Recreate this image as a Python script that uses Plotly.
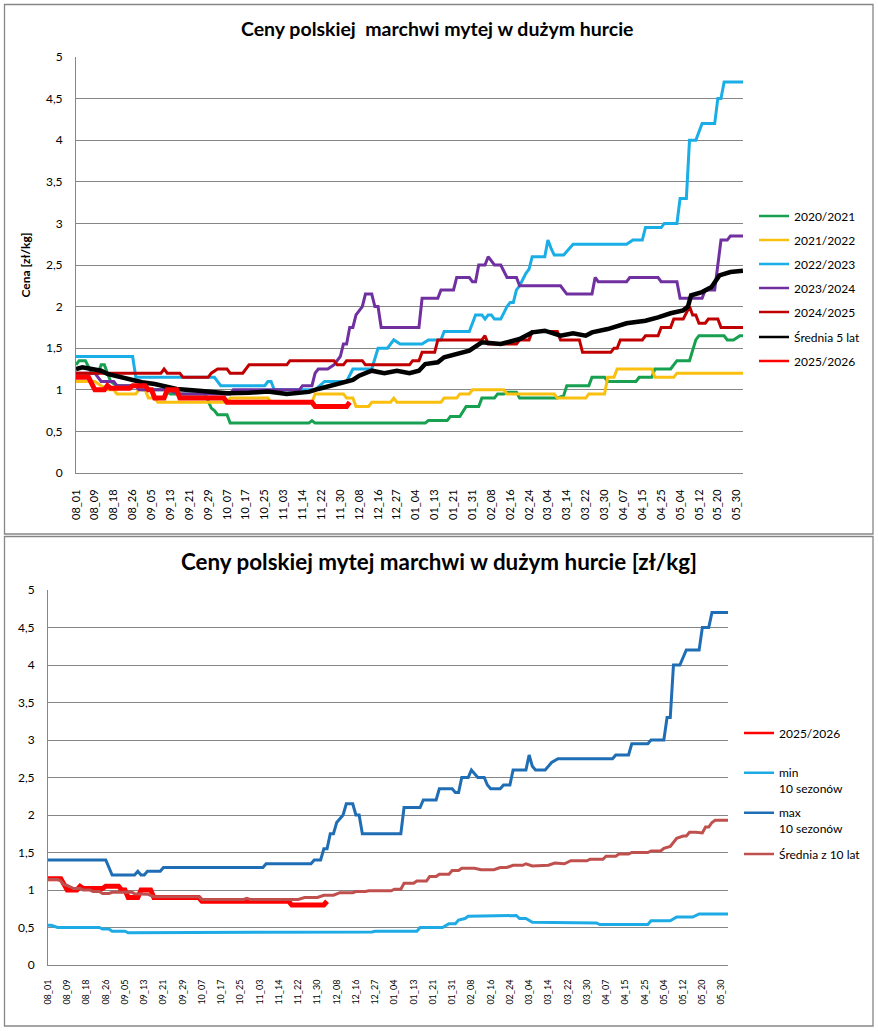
import plotly.graph_objects as go

W, H = 878, 1031
FONT = "Lato"

# ---------------- categories / tick labels ----------------
tick_labels = ["08_01", "08_09", "08_18", "08_26", "09_05", "09_13", "09_21", "09_29",
               "10_07", "10_17", "10_25", "11_03", "11_14", "11_22", "11_30", "12_08",
               "12_16", "12_27", "01_04", "01_13", "01_21", "01_31", "02_08", "02_16",
               "02_24", "03_04", "03_14", "03_22", "03_30", "04_07", "04_15", "04_25",
               "05_04", "05_12", "05_20", "05_30"]
tick_index = list(range(0, 211, 6))      # every 6th quotation day is labelled
n_days = 213                              # quotation days in a season

# ---------------- top chart series: (quotation-day index, price) ----------------
s2020_21 = [(0,1.3),(1,1.35),(3,1.35),(5,1.2),(7,1.2),(8,1.3),(9,1.3),(11,1.1),(13,1.05),(19,1.05),
            (21,1.0),(28,1.0),(30,0.95),(41,0.95),(43,0.78),(44,0.75),(45,0.7),(48,0.7),(49,0.6),
            (74,0.6),(75,0.63),(76,0.6),(111,0.6),(112,0.63),(118,0.63),(119,0.68),(122,0.68),
            (124,0.8),(128,0.8),(129,0.9),(133,0.9),(134,0.95),(136,0.95),(137,0.97),(140,0.97),
            (141,0.9),(153,0.9),(155,0.93),(156,1.05),(163,1.05),(164,1.15),(168,1.15),(169,1.1),
            (178,1.1),(179,1.15),(183,1.15),(184,1.25),(189,1.25),(191,1.35),(195,1.35),(197,1.6),
            (198,1.65),(206,1.65),(207,1.6),(209,1.6),(211,1.65),(212,1.65)]
s2021_22 = [(0,1.1),(6,1.1),(8,1.05),(10,1.0),(12,1.0),(13,0.95),(19,0.95),(20,1.0),(22,1.0),
            (23,0.9),(25,0.9),(26,0.85),(48,0.85),(49,0.9),(61,0.9),(62,0.85),(75,0.85),(76,0.95),
            (85,0.95),(86,0.9),(88,0.9),(89,0.8),(93,0.8),(94,0.85),(100,0.85),(101,0.9),(102,0.85),
            (116,0.85),(117,0.9),(121,0.9),(122,0.95),(125,0.95),(126,1.0),(136,1.0),(137,0.95),
            (152,0.95),(153,0.9),(162,0.9),(163,0.95),(168,0.95),(169,1.15),(171,1.15),(172,1.25),
            (183,1.25),(184,1.15),(190,1.15),(191,1.2),(212,1.2)]
s2022_23 = [(0,1.4),(18,1.4),(19,1.15),(44,1.15),(46,1.05),(60,1.05),(61,1.1),(62,1.1),(63,1.0),
            (76,1.0),(79,1.1),(86,1.1),(88,1.25),(94,1.25),(96,1.5),(99,1.5),(101,1.6),(103,1.55),
            (110,1.55),(112,1.6),(116,1.6),(117,1.7),(125,1.7),(127,1.9),(129,1.9),(130,1.85),
            (131,1.9),(132,1.9),(133,1.85),(135,1.85),(137,2.0),(138,2.05),(139,2.05),(140,2.2),
            (141,2.25),(143,2.4),(144,2.45),(145,2.6),(149,2.6),(150,2.8),(151,2.7),(152,2.62),
            (155,2.62),(157,2.7),(158,2.75),(175,2.75),(177,2.8),(180,2.8),(181,2.95),(186,2.95),
            (187,3.0),(191,3.0),(192,3.3),(194,3.3),(195,4.0),(197,4.0),(199,4.2),(203,4.2),
            (204,4.5),(205,4.5),(206,4.7),(212,4.7)]
s2023_24 = [(0,1.2),(6,1.2),(8,1.1),(12,1.1),(13,1.05),(19,1.05),(20,1.0),(29,1.0),(33,0.95),
            (49,0.95),(50,1.0),(71,1.0),(72,1.05),(75,1.05),(76,1.2),(77,1.25),(80,1.25),(82,1.3),
            (83,1.35),(84,1.4),(85,1.55),(86,1.55),(87,1.75),(88,1.75),(89,1.9),(90,1.95),(91,2.0),
            (92,2.15),(94,2.15),(95,2.0),(96,2.0),(97,1.75),(109,1.75),(110,2.1),(115,2.1),(116,2.2),
            (120,2.2),(121,2.35),(125,2.35),(126,2.3),(127,2.3),(128,2.5),(130,2.5),(131,2.6),
            (132,2.55),(133,2.5),(135,2.5),(137,2.35),(140,2.35),(141,2.25),(154,2.25),(156,2.15),
            (164,2.15),(165,2.35),(166,2.3),(175,2.3),(176,2.35),(185,2.35),(186,2.3),(191,2.3),
            (192,2.1),(199,2.1),(200,2.2),(203,2.2),(205,2.8),(207,2.8),(208,2.85),(212,2.85)]
s2024_25 = [(0,1.2),(27,1.2),(28,1.25),(29,1.2),(33,1.2),(34,1.15),(42,1.15),(43,1.2),(45,1.25),
            (48,1.25),(49,1.2),(53,1.2),(55,1.3),(67,1.3),(68,1.35),(82,1.35),(83,1.3),(85,1.3),
            (86,1.35),(91,1.35),(92,1.3),(106,1.3),(107,1.35),(109,1.35),(110,1.45),(114,1.45),
            (115,1.6),(129,1.6),(130,1.65),(131,1.55),(140,1.55),(141,1.6),(144,1.6),(145,1.7),
            (153,1.7),(154,1.6),(160,1.6),(161,1.45),(170,1.45),(171,1.5),(172,1.5),(173,1.6),
            (180,1.6),(181,1.65),(185,1.65),(186,1.75),(189,1.75),(190,1.85),(193,1.85),(195,2.0),
            (196,1.9),(197,1.9),(198,1.8),(200,1.8),(201,1.85),(204,1.85),(205,1.75),(212,1.75)]
avg_5y = [(0,1.25),(2,1.27),(5,1.25),(8,1.23),(10,1.19),(14,1.15),(17,1.13),(21,1.09),(25,1.07),
          (28,1.04),(32,1.01),(40,0.985),(48,0.96),(55,0.965),(61,0.98),(67,0.95),(74,0.975),
          (77,1.01),(81,1.05),(85,1.08),(88,1.12),(90,1.17),(92,1.2),(94,1.23),(98,1.2),(102,1.23),
          (106,1.2),(109,1.23),(111,1.31),(115,1.33),(117,1.39),(121,1.43),(125,1.47),(129,1.57),
          (135,1.55),(141,1.61),(145,1.69),(149,1.71),(154,1.65),(158,1.68),(162,1.65),(164,1.69),
          (169,1.73),(175,1.8),(181,1.83),(185,1.87),(189,1.92),(193,1.955),(194.5,2.0),
          (195.5,2.135),(199,2.175),(202,2.235),(204.5,2.375),(208,2.415),(212,2.43)]
s2025_26 = [(0,1.15),(4,1.15),(6,1.0),(9,1.0),(10,1.05),(11,1.02),(17,1.02),(18,1.05),(22,1.05),
            (23,1.0),(24,1.0),(25,0.9),(28,0.9),(29,1.0),(32,1.0),(33,0.9),(47,0.9),(48,0.85),
            (75,0.85),(76,0.8),(86,0.8),(87,0.85)]

# ---------------- bottom chart series ----------------
min_10 = [(0,0.53),(1,0.53),(3,0.5),(16,0.5),(17,0.48),(19,0.48),(20,0.45),(24,0.45),(25,0.43),
          (82,0.43),(83,0.44),(101,0.44),(102,0.45),(115,0.45),(116,0.5),(123,0.5),(125,0.55),
          (127,0.55),(128,0.6),(130,0.62),(131,0.65),(140,0.65),(141,0.66),(146,0.66),(147,0.62),
          (149,0.62),(151,0.57),(167,0.57),(168,0.56),(171,0.56),(172,0.54),(187,0.54),(188,0.59),
          (194,0.59),(196,0.64),(201,0.64),(203,0.68),(212,0.68)]
max_10 = [(0,1.4),(18,1.4),(20,1.2),(27,1.2),(28,1.25),(29,1.2),(30,1.2),(31,1.25),(35,1.25),
          (36,1.3),(67,1.3),(68,1.35),(82,1.35),(83,1.4),(85,1.4),(86,1.55),(87,1.55),(88,1.75),
          (89,1.75),(90,1.9),(91,1.95),(92,2.0),(93,2.15),(95,2.15),(96,2.0),(97,2.0),(98,1.75),
          (110,1.75),(111,2.1),(116,2.1),(117,2.2),(121,2.2),(122,2.35),(126,2.35),(127,2.3),
          (128,2.3),(129,2.5),(131,2.5),(132,2.6),(133,2.55),(134,2.5),(136,2.5),(137,2.4),
          (138,2.35),(141,2.35),(142,2.4),(144,2.4),(145,2.6),(149,2.6),(150,2.8),(151,2.65),
          (152,2.6),(155,2.6),(157,2.7),(159,2.75),(176,2.75),(177,2.8),(181,2.8),(182,2.95),
          (187,2.95),(188,3.0),(192,3.0),(193,3.3),(194,3.3),(195,4.0),(197,4.0),(199,4.2),
          (203,4.2),(204,4.5),(206,4.5),(207,4.7),(212,4.7)]
avg_10y = [(0,1.14),(3,1.14),(4,1.12),(5,1.07),(6,1.06),(8,1.02),(10,1.02),(11,1.0),(13,1.0),
           (14,0.98),(16,0.98),(17,0.955),(19,0.955),(20,0.97),(23,0.97),(26,0.975),(27,0.95),
           (31,0.945),(33,0.91),(47,0.91),(48,0.875),(61,0.875),(62,0.89),(63,0.875),(78,0.875),
           (80,0.9),(84,0.9),(86,0.93),(89,0.93),(91,0.965),(95,0.965),(96,0.98),(99,0.98),
           (100,0.99),(107,0.99),(108,1.01),(110,1.01),(111,1.09),(114,1.09),(115,1.12),(118,1.12),
           (119,1.18),(121,1.18),(122,1.21),(125,1.21),(126,1.26),(128,1.26),(129,1.29),(133,1.29),
           (135,1.27),(139,1.27),(141,1.3),(143,1.3),(145,1.33),(148,1.33),(149,1.35),(151,1.32),
           (154,1.32),(156,1.33),(158,1.36),(161,1.35),(163,1.39),(168,1.39),(169,1.41),(173,1.41),
           (174,1.45),(177,1.45),(178,1.48),(181,1.48),(182,1.5),(187,1.5),(188,1.52),(191,1.52),
           (192,1.555),(194,1.58),(196,1.69),(198,1.72),(199,1.72),(200,1.77),(202,1.77),(203,1.76),
           (204,1.76),(205,1.84),(206,1.84),(207,1.9),(208,1.93),(212,1.93)]

# ---------------- styles ----------------
GRID = "#868686"
C = {
    "2020/2021": "#17A050", "2021/2022": "#FAC010", "2022/2023": "#1AAEE6",
    "2023/2024": "#7030A0", "2024/2025": "#C00000", "Średnia 5 lat": "#000000",
    "2025/2026": "#FF0000", "min": "#1EABE5", "max": "#1F6EB5", "avg10": "#C0504D",
}

def px_x(p):
    return p / W

def px_y(p):
    return 1 - p / H

fig = go.Figure()
legends = {}

def add(series, name, color, width, xa, ya, legend_no, lx, ly, valign="middle"):
    xs = [p[0] for p in series]
    ys = [p[1] for p in series]
    lname = "legend" if legend_no == 1 else f"legend{legend_no}"
    # data line (not in legend)
    fig.add_trace(go.Scatter(x=xs, y=ys, mode="lines", name=name, xaxis=xa, yaxis=ya,
                             line=dict(color=color, width=width), showlegend=False,
                             hoverinfo="skip"))
    # legend entry with the thinner legend stroke
    fig.add_trace(go.Scatter(x=[None], y=[None], mode="lines", name=name, xaxis=xa, yaxis=ya,
                             line=dict(color=color, width=2.5), legend=lname,
                             showlegend=True, hoverinfo="skip"))
    legends[lname] = dict(x=px_x(lx), y=px_y(ly), xanchor="left", yanchor="middle",
                          bgcolor="rgba(0,0,0,0)", borderwidth=0, valign=valign,
                          font=dict(family=FONT, size=12, color="#000"))

# top chart
TL = 754
add(s2020_21, "2020/2021", C["2020/2021"], 3, "x", "y", 1, TL, 216)
add(s2021_22, "2021/2022", C["2021/2022"], 3, "x", "y", 2, TL, 240)
add(s2022_23, "2022/2023", C["2022/2023"], 3, "x", "y", 3, TL, 264)
add(s2023_24, "2023/2024", C["2023/2024"], 3, "x", "y", 4, TL, 288)
add(s2024_25, "2024/2025", C["2024/2025"], 3, "x", "y", 5, TL, 312)
add(avg_5y, "Średnia 5 lat", C["Średnia 5 lat"], 4.5, "x", "y", 6, TL, 337)
add(s2025_26, "2025/2026", C["2025/2026"], 5, "x", "y", 7, TL, 361)

# bottom chart
BL = 739
add(s2025_26, "2025/2026", C["2025/2026"], 5, "x2", "y2", 8, BL, 733)
add(min_10, "min<br>10 sezonów", C["min"], 3, "x2", "y2", 9, BL, 781, "top")
add(max_10, "max<br>10 sezonów", C["max"], 3, "x2", "y2", 10, BL, 821, "top")
add(avg_10y, "Średnia z 10 lat", C["avg10"], 3, "x2", "y2", 11, BL, 854)

def xaxis(domain, anchor, size, standoff):
    return dict(domain=domain, anchor=anchor, range=[0, n_days - 1], tickmode="array",
                tickvals=tick_index, ticktext=tick_labels, tickangle=-90,
                showgrid=False, zeroline=False, showline=True, linecolor=GRID, linewidth=1,
                ticks="", ticklabelstandoff=standoff, automargin=False,
                tickfont=dict(family=FONT, size=size, color="#000"))

def yaxis(domain, anchor):
    return dict(domain=domain, anchor=anchor, range=[0, 5.0001], tick0=0, dtick=0.5,
                showgrid=True, gridcolor=GRID, gridwidth=1, zeroline=False, showline=True,
                linecolor=GRID, linewidth=1, ticks="", ticklabelstandoff=10, automargin=False,
                tickfont=dict(family=FONT, size=12, color="#000"))

layout = dict(
    width=W, height=H, margin=dict(l=0, r=0, t=0, b=0), autosize=False, showlegend=True,
    paper_bgcolor="white", plot_bgcolor="white", separators=",.",
    xaxis=xaxis([px_x(76), px_x(743)], "y", 11, 11),
    yaxis=yaxis([px_y(473), px_y(57)], "x"),
    xaxis2=xaxis([px_x(48), px_x(728)], "y2", 9, 10),
    yaxis2=yaxis([px_y(965), px_y(590)], "x2"),
    annotations=[
        dict(text="Ceny polskiej\u00a0 marchwi mytej w dużym hurcie", xref="paper", yref="paper",
             x=px_x(437), y=px_y(29), xanchor="center", yanchor="middle", showarrow=False,
             font=dict(family=FONT, size=19.5, color="#000", weight="bold")),
        dict(text="Ceny polskiej mytej marchwi w dużym hurcie [zł/kg]", xref="paper", yref="paper",
             x=px_x(439), y=px_y(561), xanchor="center", yanchor="middle", showarrow=False,
             font=dict(family=FONT, size=22.4, color="#000", weight="bold")),
    ],
    shapes=[
        dict(type="rect", xref="paper", yref="paper", x0=px_x(4.5), x1=px_x(873),
             y0=px_y(534), y1=px_y(4.5), line=dict(color=GRID, width=1.3)),
        dict(type="rect", xref="paper", yref="paper", x0=px_x(4.5), x1=px_x(873),
             y0=px_y(1026), y1=px_y(536.5), line=dict(color=GRID, width=1.3)),
    ],
)
layout["yaxis"]["title"] = dict(text="Cena [zł/kg]", standoff=12,
                                font=dict(family=FONT, size=12, color="#000", weight="bold"))
layout.update(legends)
fig.update_layout(**layout)

fig.write_html("out.html")
